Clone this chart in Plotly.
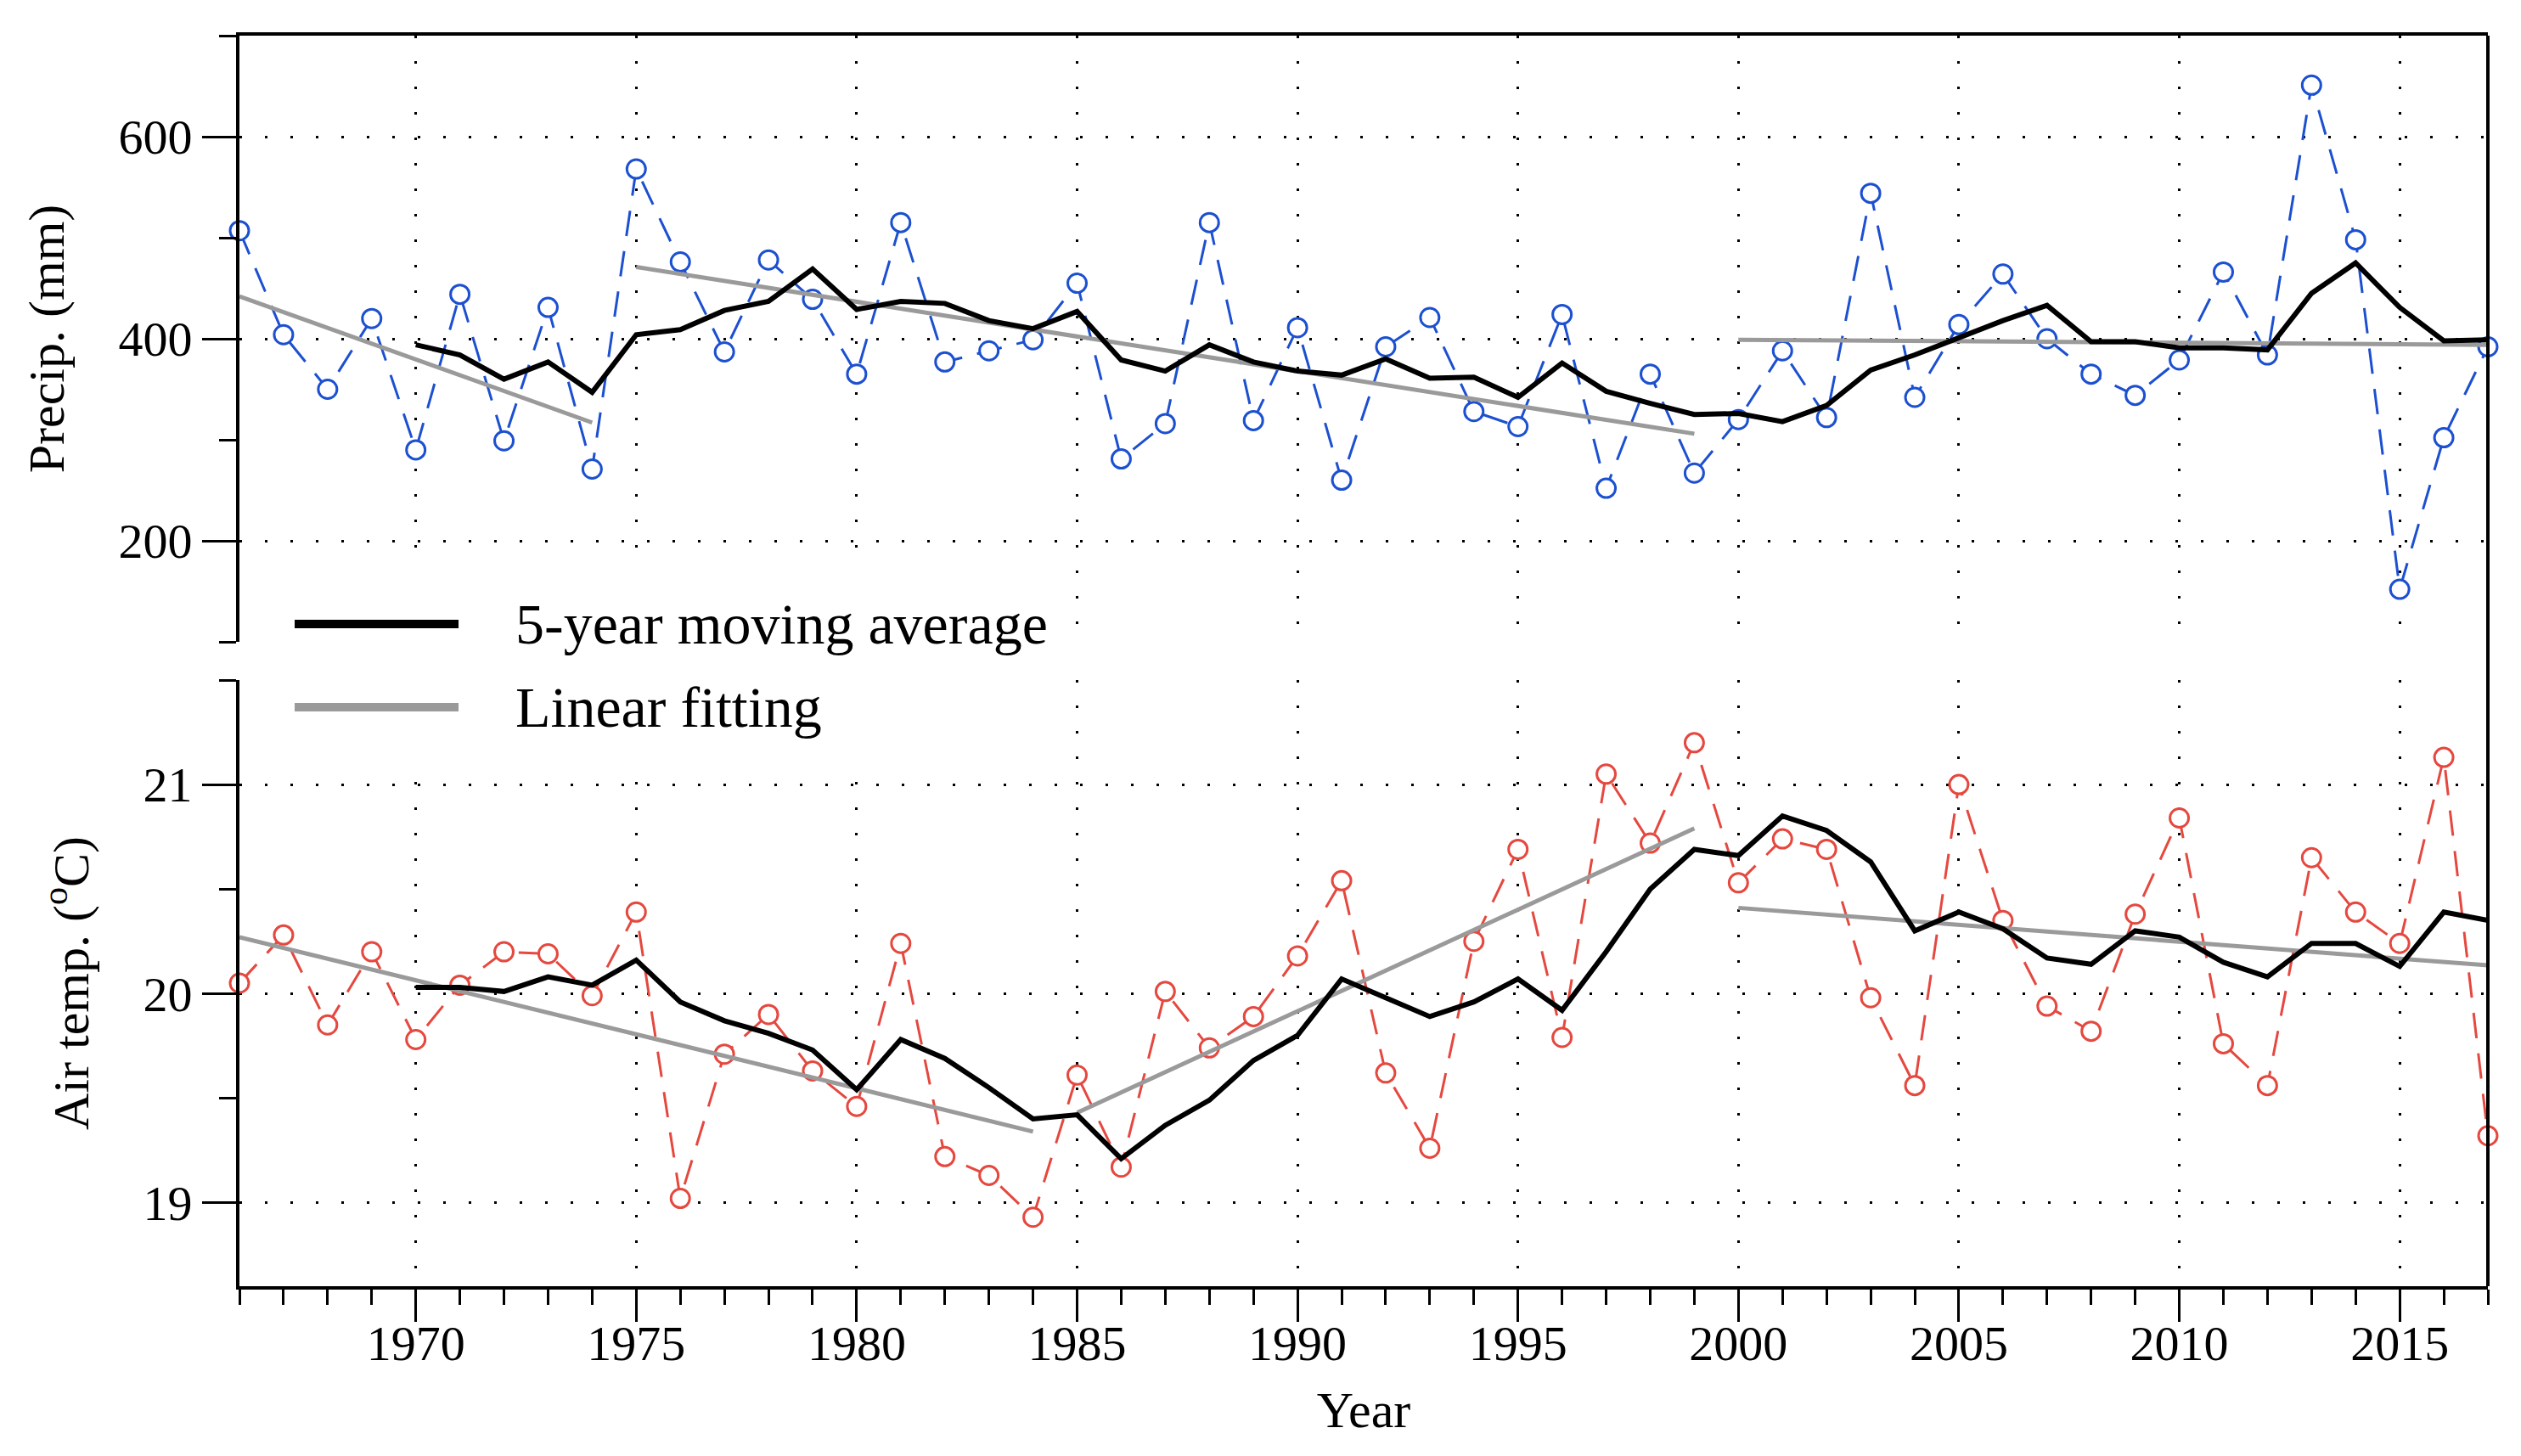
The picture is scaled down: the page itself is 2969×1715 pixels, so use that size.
import plotly.graph_objects as go

# annual series
years = list(range(1966, 2018))
precip = [507, 404, 350, 420, 290, 444, 299, 431, 271, 568,
          476, 387, 478, 439, 365, 515, 377, 388, 399, 455,
          281, 316, 515, 319, 411, 260, 392, 421, 328, 313,
          424, 252, 365, 267, 320, 388, 322, 544, 342, 414,
          464, 400, 365, 344, 379, 466, 384, 651, 498, 152,
          302, 392]
air_temp = [20.05, 20.28, 19.85, 20.20, 19.78, 20.04, 20.20, 20.19, 19.99, 20.39,
            19.02, 19.71, 19.90, 19.63, 19.46, 20.24, 19.22, 19.13, 18.93, 19.61,
            19.17, 20.01, 19.74, 19.89, 20.18, 20.54, 19.62, 19.26, 20.25, 20.69,
            19.79, 21.05, 20.72, 21.20, 20.53, 20.74, 20.69, 19.98, 19.56, 21.00,
            20.35, 19.94, 19.82, 20.38, 20.84, 19.76, 19.56, 20.65, 20.39, 20.24,
            21.13, 19.32]

# 5-year moving average (trailing, first value in 1970)
ma_years = list(range(1970, 2018))
precip_ma = [394, 384, 360, 377, 347, 404, 409, 428, 437, 469,
             429, 437, 435, 418, 410, 427, 379, 368, 394, 377,
             368, 364, 380, 361, 362, 342, 376, 348, 336, 325,
             326, 318, 334, 369, 384, 401, 418, 433, 397, 397,
             391, 391, 389, 445, 475, 431, 398, 399]
air_temp_ma = [20.03, 20.03, 20.01, 20.08, 20.04, 20.16, 19.96, 19.87, 19.81, 19.73,
               19.54, 19.78, 19.69, 19.55, 19.40, 19.42, 19.21, 19.37, 19.49, 19.68,
               19.80, 20.07, 19.98, 19.89, 19.96, 20.07, 19.92, 20.20, 20.50, 20.69,
               20.66, 20.85, 20.78, 20.63, 20.30, 20.39, 20.31, 20.17, 20.14, 20.30,
               20.27, 20.15, 20.08, 20.24, 20.24, 20.13, 20.39, 20.35]

# linear fitting per period: (start year, end year) and (start value, end value)
precip_fit_periods = [(1966, 1974), (1975, 1999), (2000, 2017)]
precip_fit_values = [(442, 317), (471, 306), (399, 394)]
temp_fit_periods = [(1966, 1984), (1985, 1999), (2000, 2017)]
temp_fit_values = [(20.27, 19.34), (19.43, 20.79), (20.41, 20.135)]

BLUE = "#1c50d0"
RED = "#e5483f"
GREY = "#9a9a9a"
FONT = "Liberation Serif, Times New Roman, serif"

W, H = 2969, 1715
PAGE_MARGIN = 8  # default body margin of the html page


def px_x(x):
    return (x - PAGE_MARGIN) / W


def px_y(y):
    return 1 - (y - PAGE_MARGIN) / H


def segments(periods, values):
    xs, ys = [], []
    for (x0, x1), (y0, y1) in zip(periods, values):
        xs += [x0, x1, None]
        ys += [y0, y1, None]
    return xs, ys


fig = go.Figure()

# top panel: precipitation
fig.add_trace(go.Scatter(x=years, y=precip, mode="lines+markers", xaxis="x2", yaxis="y2",
                         line=dict(color=BLUE, width=3, dash="30px,18px"),
                         marker=dict(symbol="circle", size=22, color="white",
                                     line=dict(color=BLUE, width=3)),
                         cliponaxis=False, showlegend=False))
fx, fy = segments(precip_fit_periods, precip_fit_values)
fig.add_trace(go.Scatter(x=fx, y=fy, mode="lines", xaxis="x2", yaxis="y2",
                         line=dict(color=GREY, width=5), showlegend=False))
fig.add_trace(go.Scatter(x=ma_years, y=precip_ma, mode="lines", xaxis="x2", yaxis="y2",
                         line=dict(color="black", width=6), cliponaxis=False, showlegend=False))

# bottom panel: air temperature
fig.add_trace(go.Scatter(x=years, y=air_temp, mode="lines+markers",
                         line=dict(color=RED, width=3, dash="30px,18px"),
                         marker=dict(symbol="circle", size=22, color="white",
                                     line=dict(color=RED, width=3)),
                         cliponaxis=False, showlegend=False))
fx, fy = segments(temp_fit_periods, temp_fit_values)
fig.add_trace(go.Scatter(x=fx, y=fy, mode="lines",
                         line=dict(color=GREY, width=5), showlegend=False))
fig.add_trace(go.Scatter(x=ma_years, y=air_temp_ma, mode="lines",
                         line=dict(color="black", width=6), cliponaxis=False, showlegend=False))

tick_font = dict(family=FONT, size=58, color="black")
title_font = dict(family=FONT, size=60, color="black")
grid = dict(showgrid=True, gridcolor="black", gridwidth=3, griddash="3px,27px", zeroline=False)
x_dom = [px_x(282), px_x(2930)]
left, right = px_x(282), px_x(2930)

fig.update_layout(
    width=W, height=H,
    margin=dict(l=0, r=0, t=0, b=0),
    paper_bgcolor="white", plot_bgcolor="white",
    font=dict(family=FONT, color="black"),
    showlegend=False,
    xaxis=dict(domain=x_dom, range=[1966, 2017], anchor="y",
               showline=True, linecolor="black", linewidth=4,
               tickmode="linear", tick0=1970, dtick=5,
               ticks="outside", ticklen=38, tickwidth=3, tickcolor="black",
               minor=dict(tick0=1966, dtick=1, ticks="outside", ticklen=18,
                          tickwidth=3, tickcolor="black", showgrid=False),
               tickfont=tick_font, ticklabelstandoff=-25,
               title=dict(text="Year", font=title_font, standoff=26),
               **grid),
    yaxis=dict(domain=[px_y(1515), px_y(801)], range=[18.6, 21.5], anchor="x",
               showline=True, linecolor="black", linewidth=4,
               tickmode="linear", tick0=19, dtick=1,
               ticks="outside", ticklen=40, tickwidth=3, tickcolor="black",
               minor=dict(dtick=0.5, ticks="outside", ticklen=20,
                          tickwidth=3, tickcolor="black", showgrid=False),
               tickfont=tick_font,
               title=dict(text="Air temp. (<sup>o</sup>C)", font=title_font, standoff=45),
               **grid),
    xaxis2=dict(domain=x_dom, range=[1966, 2017], anchor="y2", side="top",
                showline=True, linecolor="black", linewidth=4,
                tickmode="linear", tick0=1970, dtick=5,
                ticks="", showticklabels=False,
                **grid),
    yaxis2=dict(domain=[px_y(756), px_y(42)], range=[100, 700], anchor="x2",
                showline=True, linecolor="black", linewidth=4,
                tickmode="linear", tick0=200, dtick=200,
                ticks="outside", ticklen=40, tickwidth=3, tickcolor="black",
                minor=dict(dtick=100, ticks="outside", ticklen=20,
                           tickwidth=3, tickcolor="black", showgrid=False),
                tickfont=tick_font,
                title=dict(text="Precip. (mm)", font=title_font, standoff=45),
                **grid),
)

# right frame line running through both panels
fig.add_shape(type="line", xref="paper", yref="paper", x0=right, x1=right,
              y0=px_y(1515), y1=px_y(42), line=dict(color="black", width=4))

# legend drawn by hand so the sample lines are as long as in the original
fig.add_shape(type="rect", xref="paper", yref="paper", x0=px_x(292), x1=px_x(1240),
              y0=px_y(900), y1=px_y(667), line=dict(width=0), fillcolor="white", layer="above")
legend_items = [("5-year moving average", "black", 735),
                ("Linear fitting", GREY, 833)]
for label, colour, ypix in legend_items:
    fig.add_shape(type="line", xref="paper", yref="paper", x0=px_x(347), x1=px_x(540),
                  y0=px_y(ypix), y1=px_y(ypix), line=dict(color=colour, width=10), layer="above")
    fig.add_annotation(text=label, xref="paper", yref="paper", x=px_x(605), y=px_y(ypix),
                       xanchor="left", yanchor="middle", showarrow=False,
                       font=dict(family=FONT, size=68, color="black"))

fig.write_html("out.html")
